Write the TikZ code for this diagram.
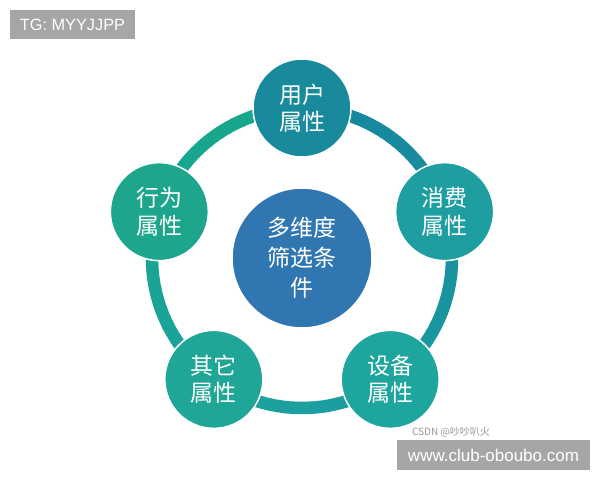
\documentclass[tikz,border=0pt]{standalone}
\usepackage{fontspec}
\setmainfont{Liberation Sans}
\newfontfamily\cjk{Noto Sans CJK SC}
\definecolor{ringS}{RGB}{22,132,156}
\definecolor{ringM}{RGB}{28,160,160}
\definecolor{ringE}{RGB}{22,168,136}
\definecolor{cTop}{RGB}{24,138,156}
\definecolor{cRight}{RGB}{30,158,160}
\definecolor{cBR}{RGB}{30,165,158}
\definecolor{cBL}{RGB}{32,166,150}
\definecolor{cLeft}{RGB}{30,166,140}
\definecolor{cCenter}{RGB}{48,118,176}
\definecolor{boxgray}{RGB}{166,166,166}
\definecolor{csdngray}{RGB}{150,150,150}
\tikzset{
  attr/.style={circle, draw=white, line width=1.5pt, minimum size=98pt, inner sep=0pt,
    text=white, align=center, font=\cjk\fontsize{23}{27.5}\selectfont},
  hub/.style={circle, draw=white, line width=1.5pt, minimum size=140pt, inner sep=0pt,
    text=white, align=center, font=\cjk\fontsize{23}{30}\selectfont, fill=cCenter},
  graybox/.style={fill=boxgray, text=white, inner sep=0pt}
}
\begin{document}
\begin{tikzpicture}[x=1pt,y=1pt]
\useasboundingbox (0,0) rectangle (600,-480);
\fill[white] (0,0) rectangle (600,-480);
\coordinate (c) at (302,-258);
% ring with angular gradient
\foreach \i in {0,...,119}{
  \pgfmathsetmacro\t{\i/119}
  \ifdim\t pt<0.5pt
    \pgfmathsetmacro\pa{\t*200}
    \colorlet{seg}{ringM!\pa!ringS}
  \else
    \pgfmathsetmacro\pa{(\t-0.5)*200}
    \colorlet{seg}{ringE!\pa!ringM}
  \fi
  \draw[line width=12.5pt, seg] ([shift={(90-\i*3:150)}]c) arc[start angle=90-\i*3, end angle=90-\i*3-3.4, radius=150];
}
\node[hub] (center) at (c) {多维度\\筛选条\\件};
\node[attr, fill=cTop]   (user)   at ([shift={(90:150)}]c)  {用户\\属性};
\node[attr, fill=cRight] (spend)  at ([shift={(18:150)}]c)  {消费\\属性};
\node[attr, fill=cBR]    (device) at ([shift={(-54:150)}]c) {设备\\属性};
\node[attr, fill=cBL]    (other)  at ([shift={(-126:150)}]c) {其它\\属性};
\node[attr, fill=cLeft]  (behav)  at ([shift={(162:150)}]c) {行为\\属性};
\node[graybox, minimum width=125pt, minimum height=29pt, font=\fontsize{16.3}{18}\selectfont] (tg) at (72.5,-24.5) {TG: MYYJJPP};
\node[graybox, minimum width=193pt, minimum height=30pt, font=\fontsize{17}{19}\selectfont] (www) at (493.5,-455) {www.club-oboubo.com};
\node[text=csdngray, inner sep=0pt, font=\cjk\fontsize{10}{11}\selectfont] (csdn) at (451,-432) {CSDN @吵吵叭火};
\end{tikzpicture}
\end{document}
